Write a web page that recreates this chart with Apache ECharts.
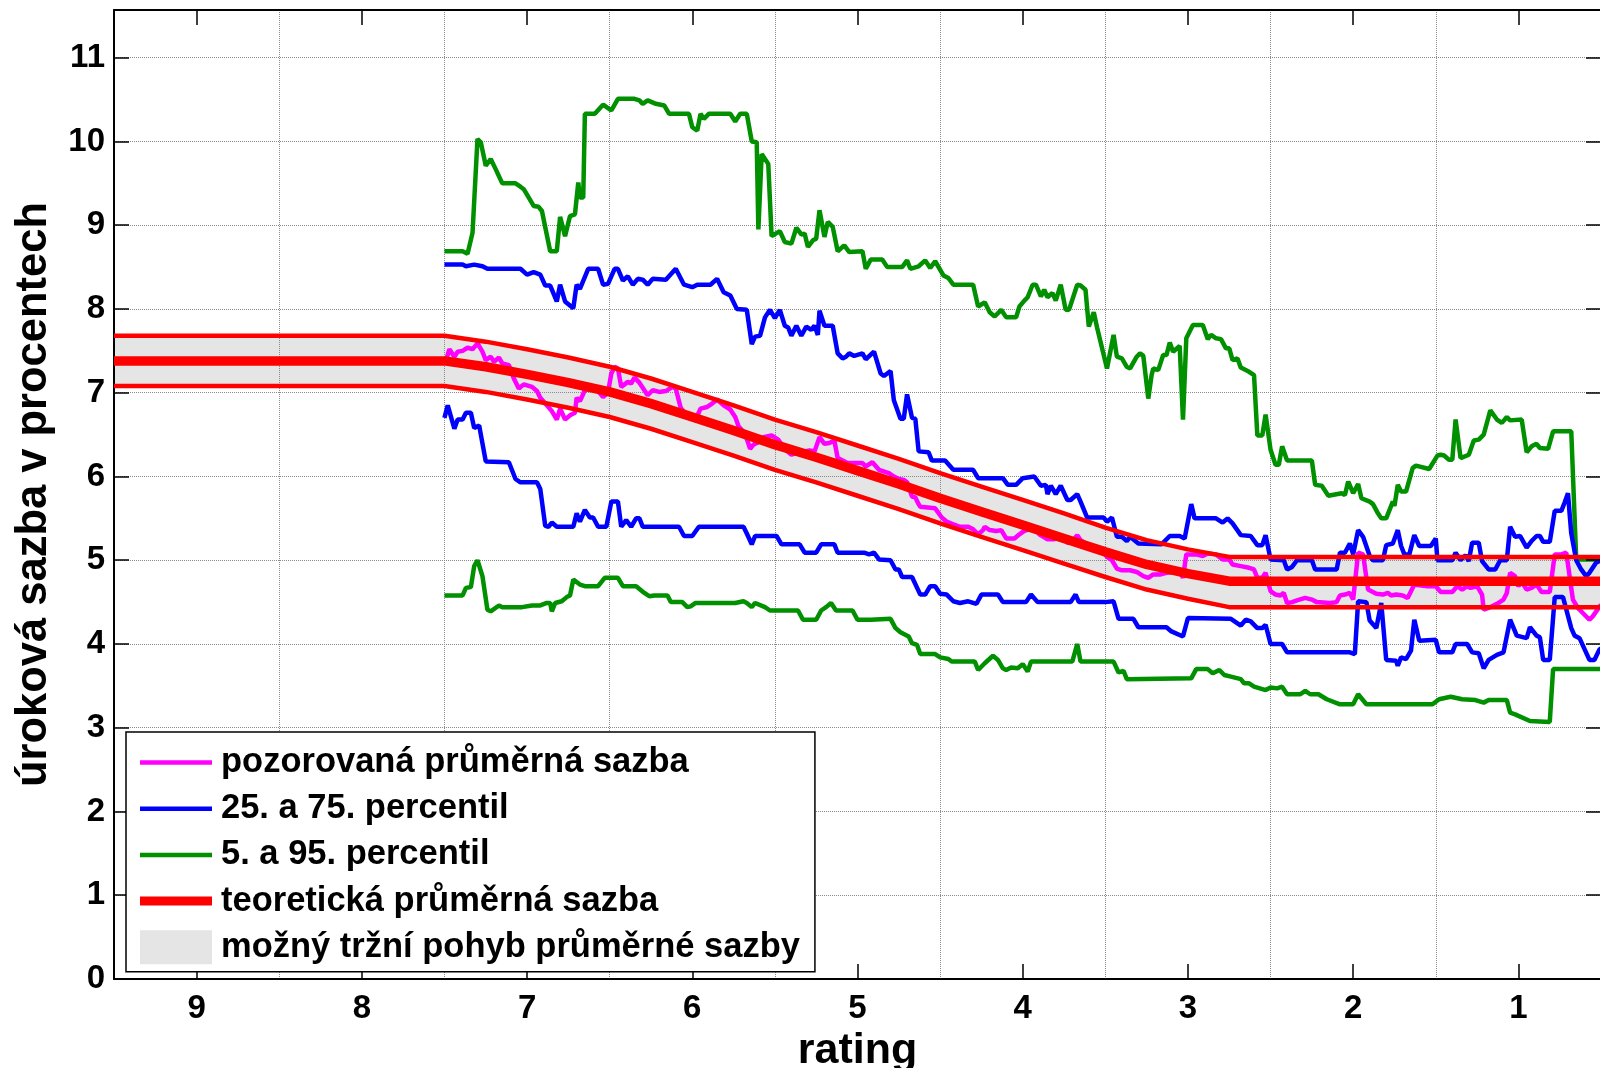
<!DOCTYPE html>
<html><head><meta charset="utf-8">
<script src="https://cdn.jsdelivr.net/npm/echarts@6/dist/echarts.min.js"></script>
<style>html,body{margin:0;padding:0;background:#fff;overflow:hidden}#c{width:1600px;height:1068px}</style>
</head><body><div id="c"></div>
<script>
// ---- tick labels ----
const ratingTicks = [1, 2, 3, 4, 5, 6, 7, 8, 9];
const rateTicks = [0, 1, 2, 3, 4, 5, 6, 7, 8, 9, 10, 11];

// ---- theoretical mean rate and its band ----
const theoryRating = [9.5, 7.5, 7.25, 7.0, 6.75, 6.5, 6.25, 6.0, 5.75, 5.5, 5.25, 5.0, 4.75, 4.5, 4.25, 4.0, 3.75, 3.5, 3.25, 3.0, 2.75, 0.5];
const theoryMean  = [7.38, 7.38, 7.31, 7.22, 7.12, 7.01, 6.87, 6.71, 6.55, 6.38, 6.23, 6.07, 5.91, 5.74, 5.58, 5.42, 5.26, 5.10, 4.95, 4.84, 4.75, 4.75];
const theoryUpper = [7.68, 7.68, 7.61, 7.52, 7.42, 7.31, 7.17, 7.01, 6.85, 6.68, 6.53, 6.37, 6.21, 6.04, 5.88, 5.72, 5.56, 5.39, 5.24, 5.13, 5.04, 5.04];
const theoryLower = [7.08, 7.08, 7.01, 6.92, 6.82, 6.71, 6.57, 6.41, 6.25, 6.08, 5.93, 5.77, 5.61, 5.44, 5.28, 5.12, 4.96, 4.80, 4.65, 4.54, 4.44, 4.44];

// ---- 95th percentile [rating, rate] ----
const p95 = [[7.50,8.69],[7.39,8.69],[7.36,8.66],[7.33,8.91],[7.30,10.03],[7.28,9.99],[7.25,9.71],[7.22,9.79],[7.19,9.67],[7.15,9.50],[7.07,9.50],[7.04,9.46],[7.02,9.43],[6.96,9.23],[6.93,9.22],[6.91,9.17],[6.86,8.69],[6.82,8.69],[6.80,9.10],[6.77,8.87],[6.74,9.11],[6.71,9.13],[6.69,9.51],[6.68,9.33],[6.66,9.33],[6.65,10.33],[6.59,10.33],[6.54,10.44],[6.49,10.37],[6.45,10.51],[6.35,10.51],[6.32,10.49],[6.30,10.45],[6.27,10.49],[6.22,10.45],[6.17,10.43],[6.14,10.33],[6.02,10.33],[6.00,10.17],[5.97,10.13],[5.95,10.33],[5.93,10.27],[5.90,10.33],[5.77,10.33],[5.74,10.24],[5.71,10.33],[5.67,10.33],[5.64,10.00],[5.61,9.99],[5.60,8.95],[5.58,9.85],[5.54,9.73],[5.52,8.87],[5.47,8.93],[5.44,8.80],[5.40,8.78],[5.37,8.97],[5.34,8.89],
[5.32,8.90],[5.30,8.74],[5.27,8.82],[5.25,8.84],[5.23,9.18],[5.20,8.86],[5.18,9.04],[5.15,8.98],[5.12,8.69],[5.08,8.76],[5.05,8.68],[4.97,8.69],[4.95,8.48],[4.92,8.59],[4.85,8.59],[4.82,8.50],[4.73,8.50],[4.70,8.58],[4.68,8.48],[4.63,8.51],[4.59,8.58],[4.56,8.49],[4.53,8.57],[4.48,8.40],[4.45,8.37],[4.42,8.29],[4.30,8.29],[4.27,8.03],[4.23,8.08],[4.20,7.96],[4.17,7.91],[4.13,7.99],[4.10,7.90],[4.04,7.90],[4.02,8.03],[3.99,8.10],[3.97,8.14],[3.94,8.29],[3.92,8.29],[3.89,8.15],[3.87,8.23],[3.85,8.14],[3.82,8.19],[3.80,8.10],[3.77,8.29],[3.74,7.99],[3.72,7.99],[3.67,8.29],[3.65,8.28],[3.62,8.23],[3.60,7.79],[3.57,7.96],[3.55,7.78],[3.49,7.29],[3.45,7.69],[3.43,7.43],[3.40,7.41],[3.37,7.31],[3.35,7.29],[3.31,7.43],[3.29,7.47],[3.27,7.44],[3.24,6.93],[3.22,7.21],
[3.21,7.29],[3.18,7.27],[3.15,7.45],[3.13,7.45],[3.11,7.60],[3.09,7.49],[3.05,7.56],[3.03,6.68],[3.01,7.65],[2.97,7.81],[2.91,7.81],[2.88,7.64],[2.86,7.69],[2.83,7.65],[2.80,7.64],[2.77,7.53],[2.75,7.53],[2.73,7.39],[2.70,7.41],[2.68,7.30],[2.63,7.25],[2.60,7.21],[2.58,6.49],[2.55,6.49],[2.53,6.74],[2.50,6.32],[2.47,6.14],[2.45,6.14],[2.43,6.36],[2.40,6.19],[2.25,6.19],[2.23,5.90],[2.19,5.89],[2.15,5.77],[2.07,5.80],[2.05,5.78],[2.03,5.94],[2.00,5.80],[1.97,5.91],[1.95,5.74],[1.90,5.70],[1.88,5.67],[1.85,5.56],[1.83,5.50],[1.80,5.50],[1.76,5.70],[1.75,5.65],[1.73,5.90],[1.71,5.82],[1.68,5.82],[1.64,6.10],[1.62,6.13],[1.54,6.09],[1.49,6.25],[1.47,6.26],[1.45,6.25],[1.42,6.20],[1.40,6.20],[1.38,6.68],[1.35,6.22],[1.30,6.26],[1.27,6.43],[1.24,6.44],[1.21,6.50],[1.17,6.79],[1.16,6.79],[1.13,6.68],[1.10,6.64],[1.07,6.71],[1.05,6.67],[0.98,6.68],[0.95,6.29],[0.92,6.36],[0.89,6.39],[0.87,6.34],[0.82,6.33],[0.79,6.54],[0.68,6.54],[0.65,5.01],[0.50,5.01]];

// ---- 75th percentile ----
const p75 = [[7.50,8.53],[7.39,8.53],[7.37,8.51],[7.32,8.53],[7.27,8.51],[7.24,8.48],[7.04,8.48],[7.00,8.41],[6.96,8.44],[6.92,8.41],[6.89,8.28],[6.86,8.28],[6.82,8.09],[6.80,8.29],[6.77,8.09],[6.72,8.01],[6.70,8.29],[6.68,8.24],[6.63,8.48],[6.57,8.48],[6.54,8.29],[6.51,8.30],[6.47,8.48],[6.45,8.48],[6.42,8.34],[6.39,8.39],[6.36,8.29],[6.33,8.36],[6.30,8.35],[6.27,8.29],[6.24,8.36],[6.16,8.35],[6.10,8.48],[6.05,8.29],[6.00,8.26],[5.97,8.29],[5.89,8.29],[5.85,8.36],[5.81,8.20],[5.77,8.16],[5.73,8.00],[5.67,7.99],[5.64,7.58],[5.62,7.67],[5.59,7.68],[5.56,7.90],[5.53,7.99],[5.50,7.89],[5.47,7.99],[5.44,7.80],[5.42,7.78],[5.40,7.68],[5.37,7.80],[5.34,7.68],
[5.31,7.79],[5.28,7.75],[5.26,7.80],[5.24,7.69],[5.23,7.98],[5.20,7.80],[5.15,7.80],[5.12,7.47],[5.09,7.41],[5.07,7.43],[5.05,7.47],[5.02,7.44],[4.97,7.47],[4.95,7.40],[4.90,7.49],[4.86,7.23],[4.84,7.20],[4.80,7.26],[4.78,6.91],[4.74,6.69],[4.72,6.69],[4.70,6.98],[4.67,6.70],[4.65,6.69],[4.63,6.30],[4.57,6.29],[4.55,6.19],[4.47,6.19],[4.42,6.08],[4.30,6.08],[4.27,5.98],[4.12,5.98],[4.09,5.90],[4.04,5.90],[4.00,5.98],[3.93,6.00],[3.89,5.89],[3.86,5.90],[3.85,5.79],[3.83,5.89],[3.80,5.79],[3.77,5.89],[3.73,5.72],[3.71,5.72],[3.67,5.79],[3.65,5.70],[3.61,5.51],[3.51,5.51],[3.49,5.46],[3.46,5.51],[3.43,5.28],[3.40,5.28],[3.37,5.23],[3.35,5.28],[3.30,5.20],[3.16,5.19],[3.11,5.29],[3.05,5.29],[3.02,5.26],[2.98,5.67],[2.96,5.50],[2.83,5.50],[2.79,5.45],[2.76,5.50],[2.73,5.44],[2.68,5.30],[2.62,5.29],[2.58,5.18],[2.55,5.18],[2.53,5.30],[2.50,5.01],[2.42,5.00],[2.40,4.89],[2.37,4.92],[2.34,5.00],[2.25,5.00],[2.23,4.89],[2.10,4.89],[2.08,5.09],[2.05,5.09],[2.02,5.20],[2.00,5.07],[1.97,5.36],[1.94,5.28],[1.90,5.05],[1.88,5.00],[1.82,5.00],[1.80,5.18],[1.76,5.20],[1.73,5.36],[1.71,5.17],[1.69,5.07],[1.66,5.07],[1.63,5.30],[1.60,5.17],[1.53,5.17],[1.50,5.26],[1.49,5.00],[1.40,5.00],[1.38,5.09],[1.35,5.00],[1.32,5.06],[1.30,4.99],[1.28,5.21],[1.24,5.21],[1.22,4.99],[1.18,4.89],[1.14,4.89],[1.11,5.00],[1.07,5.00],[1.05,5.40],[1.02,5.28],[0.99,5.29],[0.95,5.15],[0.92,5.23],[0.89,5.29],[0.87,5.29],[0.85,5.22],[0.81,5.22],[0.78,5.59],[0.74,5.59],[0.72,5.69],[0.70,5.80],[0.68,5.32],[0.65,5.00],[0.62,4.89],[0.59,4.81],[0.57,4.85],[0.53,4.97],[0.50,5.00]];

// ---- 25th percentile ----
const p25 = [[7.50,6.70],[7.48,6.85],[7.44,6.57],[7.42,6.68],[7.39,6.68],[7.37,6.76],[7.34,6.76],[7.32,6.58],[7.29,6.61],[7.25,6.18],[7.11,6.17],[7.07,5.97],[7.04,5.93],[6.94,5.93],[6.92,5.85],[6.89,5.41],[6.87,5.40],[6.85,5.45],[6.82,5.40],[6.72,5.40],[6.70,5.56],[6.68,5.46],[6.65,5.60],[6.62,5.51],[6.60,5.51],[6.57,5.40],[6.52,5.40],[6.49,5.70],[6.45,5.70],[6.43,5.40],[6.40,5.48],[6.37,5.40],[6.34,5.50],[6.32,5.50],[6.30,5.40],[6.08,5.40],[6.05,5.29],[6.00,5.29],[5.96,5.40],[5.69,5.40],[5.67,5.32],[5.64,5.19],[5.62,5.29],[5.49,5.29],[5.46,5.19],[5.35,5.19],[5.32,5.09],[5.25,5.09],[5.22,5.19],
[5.14,5.19],[5.12,5.09],[4.96,5.09],[4.93,5.07],[4.90,5.09],[4.87,5.01],[4.80,5.00],[4.77,4.89],[4.75,4.89],[4.73,4.80],[4.67,4.80],[4.62,4.59],[4.59,4.59],[4.56,4.69],[4.53,4.69],[4.50,4.60],[4.46,4.59],[4.42,4.51],[4.38,4.49],[4.33,4.51],[4.28,4.48],[4.25,4.59],[4.15,4.59],[4.12,4.50],[3.98,4.50],[3.95,4.59],[3.91,4.50],[3.71,4.50],[3.68,4.59],[3.66,4.50],[3.50,4.50],[3.45,4.51],[3.42,4.30],[3.33,4.30],[3.30,4.20],[3.13,4.20],[3.10,4.15],[3.03,4.09],[3.00,4.31],
[2.74,4.30],[2.68,4.22],[2.65,4.29],[2.62,4.27],[2.58,4.19],[2.55,4.19],[2.53,4.23],[2.50,4.00],[2.43,4.00],[2.40,3.90],[2.02,3.90],[1.99,3.88],[1.97,4.51],[1.92,4.50],[1.90,4.28],[1.86,4.19],[1.83,4.49],[1.80,3.81],[1.74,3.80],[1.73,3.74],[1.71,3.84],[1.68,3.82],[1.65,3.92],[1.63,4.29],[1.60,4.04],[1.50,4.05],[1.48,3.90],[1.40,3.90],[1.38,4.00],[1.31,4.00],[1.28,3.90],[1.24,3.89],[1.21,3.71],[1.18,3.81],[1.13,3.87],[1.09,3.90],[1.05,4.29],[1.01,4.10],[0.95,4.07],[0.93,4.20],[0.89,4.10],[0.87,4.08],[0.85,3.81],[0.81,3.81],[0.78,4.56],[0.73,4.56],[0.68,4.19],[0.66,4.10],[0.63,4.07],[0.57,3.81],[0.54,3.81],[0.51,3.93],[0.50,3.95]];

// ---- 5th percentile ----
const p5 = [[7.50,4.58],[7.39,4.58],[7.37,4.67],[7.34,4.68],[7.32,4.93],[7.30,5.00],[7.27,4.81],[7.24,4.41],[7.22,4.39],[7.17,4.46],[7.15,4.44],[7.03,4.44],[6.97,4.46],[6.92,4.46],[6.88,4.49],[6.86,4.49],[6.85,4.39],[6.83,4.49],[6.79,4.51],[6.76,4.56],[6.74,4.58],[6.72,4.77],[6.68,4.71],[6.65,4.69],[6.57,4.69],[6.53,4.79],[6.45,4.79],[6.42,4.69],[6.34,4.69],[6.29,4.61],[6.26,4.57],[6.23,4.58],[6.15,4.58],[6.13,4.50],[6.06,4.50],[6.03,4.44],[6.01,4.45],[5.98,4.49],[5.74,4.49],[5.69,4.51],[5.67,4.49],[5.64,4.44],[5.62,4.49],[5.56,4.44],[5.53,4.40],[5.36,4.40],[5.33,4.29],[5.25,4.29],[5.22,4.40],[5.19,4.44],[5.16,4.49],[5.13,4.40],[5.03,4.40],[5.00,4.29],[4.92,4.29],
[4.80,4.30],[4.77,4.19],[4.74,4.14],[4.69,4.09],[4.67,4.01],[4.64,3.99],[4.62,3.88],[4.53,3.88],[4.50,3.84],[4.45,3.82],[4.43,3.79],[4.29,3.79],[4.27,3.69],[4.23,3.77],[4.18,3.86],[4.15,3.81],[4.12,3.71],[4.10,3.69],[4.07,3.72],[4.03,3.71],[4.00,3.76],[3.97,3.67],[3.95,3.79],[3.70,3.79],[3.67,4.00],[3.65,3.79],[3.45,3.79],[3.42,3.66],[3.39,3.68],[3.37,3.58],
[2.98,3.59],[2.95,3.70],[2.88,3.70],[2.85,3.65],[2.81,3.69],[2.78,3.63],[2.74,3.61],[2.68,3.58],[2.66,3.53],[2.63,3.53],[2.60,3.49],[2.53,3.45],[2.50,3.48],[2.46,3.47],[2.43,3.49],[2.40,3.40],[2.32,3.40],[2.29,3.44],[2.26,3.40],[2.21,3.40],[2.16,3.34],[2.08,3.28],[2.00,3.28],[1.97,3.40],[1.92,3.28],[1.52,3.28],[1.48,3.34],[1.41,3.37],[1.34,3.34],[1.26,3.33],[1.21,3.30],[1.18,3.33],[1.07,3.33],[1.05,3.18],[1.02,3.16],[0.93,3.08],[0.81,3.07],[0.79,3.70],[0.50,3.70]];

// ---- observed average rate ----
const observed = [[7.49,7.39],[7.47,7.52],[7.44,7.43],[7.42,7.49],[7.39,7.50],[7.36,7.54],[7.33,7.52],[7.30,7.59],[7.27,7.49],[7.25,7.39],[7.22,7.43],[7.20,7.37],[7.17,7.42],[7.15,7.35],[7.11,7.33],[7.08,7.17],[7.05,7.05],[7.02,7.10],[6.97,7.07],[6.94,7.02],[6.92,6.94],[6.88,6.85],[6.85,6.78],[6.82,6.68],[6.80,6.81],[6.77,6.68],[6.74,6.73],[6.71,6.76],[6.70,6.94],[6.68,6.90],[6.65,7.03],[6.61,7.07],[6.57,7.02],[6.54,6.95],[6.51,7.00],[6.49,7.23],[6.47,7.31],[6.45,7.29],[6.43,7.07],[6.39,7.13],[6.37,7.11],[6.35,7.18],[6.32,7.12],[6.29,7.03],[6.27,6.97],[6.24,7.03],[6.20,7.01],[6.16,7.02],[6.12,7.07],[6.10,7.05],[6.07,6.82],[6.05,6.77],[6.02,6.71],[5.98,6.68],[5.95,6.81],[5.91,6.83],[5.88,6.87],[5.85,6.92],[5.81,6.85],[5.77,6.80],[5.74,6.71],[5.72,6.60],[5.68,6.51],[5.65,6.33],[5.63,6.38],[5.60,6.41],[5.57,6.47],[5.52,6.49],[5.48,6.44],[5.44,6.33],[5.40,6.26],[5.37,6.28],[5.34,6.29],[5.29,6.31],[5.26,6.30],[5.23,6.47],[5.20,6.39],[5.17,6.40],[5.14,6.43],[5.12,6.22],[5.06,6.16],
[4.97,6.16],[4.95,6.12],[4.91,6.17],[4.87,6.08],[4.81,6.04],[4.78,6.00],[4.75,5.97],[4.72,5.96],[4.70,5.93],[4.67,5.76],[4.65,5.75],[4.63,5.67],[4.62,5.64],[4.53,5.62],[4.49,5.51],[4.46,5.46],[4.42,5.43],[4.38,5.40],[4.33,5.40],[4.30,5.37],[4.27,5.31],[4.24,5.36],[4.23,5.40],[4.20,5.36],[4.16,5.35],[4.13,5.36],[4.10,5.26],[4.05,5.26],[4.02,5.31],[3.99,5.35],[3.96,5.37],[3.93,5.40],[3.90,5.31],[3.85,5.25],[3.81,5.25],[3.78,5.28],[3.75,5.25],[3.73,5.21],[3.70,5.22],[3.67,5.30],[3.65,5.24],[3.61,5.19],[3.58,5.14],[3.55,5.12],[3.51,5.09],[3.49,5.04],[3.46,5.00],[3.43,4.90],[3.40,4.88],[3.35,4.88],[3.31,4.86],[3.27,4.81],[3.24,4.79],
[3.21,4.83],[3.17,4.83],[3.13,4.85],[3.08,4.86],[3.05,4.87],[3.03,4.79],[3.01,5.07],[2.95,5.07],[2.91,5.05],[2.88,5.08],[2.83,5.07],[2.79,5.01],[2.75,5.01],[2.73,4.95],[2.68,4.93],[2.63,4.91],[2.60,4.89],[2.58,4.79],[2.55,4.79],[2.53,4.85],[2.50,4.63],[2.47,4.59],[2.44,4.58],[2.42,4.61],[2.40,4.49],[2.37,4.50],[2.34,4.52],[2.29,4.55],[2.25,4.53],[2.22,4.50],[2.14,4.49],[2.10,4.50],[2.08,4.58],[2.05,4.59],[2.02,4.61],[2.00,4.53],[1.97,5.09],[1.94,5.07],[1.91,4.65],[1.86,4.60],[1.82,4.59],[1.79,4.61],[1.77,4.58],[1.74,4.59],[1.70,4.58],[1.67,4.55],[1.63,4.71],[1.60,4.70],[1.55,4.69],[1.50,4.69],[1.47,4.62],[1.40,4.62],[1.37,4.69],[1.34,4.65],[1.31,4.69],[1.29,4.67],[1.25,4.69],[1.22,4.59],[1.21,4.41],[1.18,4.43],[1.13,4.48],[1.09,4.53],[1.07,4.61],[1.05,4.85],[1.02,4.81],[1.00,4.69],[0.98,4.74],[0.95,4.65],[0.92,4.67],[0.89,4.71],[0.86,4.62],[0.81,4.62],[0.78,5.07],[0.74,5.07],[0.71,5.09],[0.67,4.53],[0.64,4.43],[0.61,4.37],[0.57,4.29],[0.55,4.33],[0.50,4.47]];

// ---- legend names ----
const NAME_OBS = 'pozorovaná průměrná sazba';
const NAME_IQR = '25. a 75. percentil';
const NAME_P90 = '5. a 95. percentil';
const NAME_THEORY = 'teoretická průměrná sazba';
const NAME_BAND = 'možný tržní pohyb průměrné sazby';

const FONT = "'Liberation Sans', Arial, Helvetica, sans-serif";
const GRID_LINE = { show: true, lineStyle: { color: '#8a8a8a', width: 1, type: 'dotted' } };
const C_GREEN = '#009000', C_BLUE = '#0000ff', C_MAG = '#ff00ff', C_RED = '#ff0000', C_BAND = '#e5e5e5';
const THIN = 4.5, THICK = 9.5;

const pairs = (xs, ys) => xs.map((x, i) => [x, ys[i]]);

function lineSeries(name, data, color, width, z) {
  return { name, type: 'line', data, symbol: 'none', showSymbol: false, z,
    lineStyle: { color, width }, itemStyle: { color }, emphasis: { disabled: true }, silent: true };
}

const option = {
  animation: false,
  backgroundColor: '#ffffff',
  grid: { left: 114, right: -1, top: 10, bottom: 89, containLabel: false, outerBoundsMode: 'none' },
  legend: {
    left: 126, top: 732, orient: 'vertical', z: 10,
    backgroundColor: '#ffffff', borderColor: '#000000', borderWidth: 1.5, borderRadius: 0,
    padding: [13, 15, 7, 14], itemGap: 11.2, itemWidth: 72, itemHeight: 34,
    selectedMode: false,
    textStyle: { fontSize: 34.5, fontWeight: 'bold', color: '#000', fontFamily: FONT, padding: [0, 0, 0, 4] },
    data: [
      { name: NAME_OBS, icon: 'path://M0 0H72V4.5H0Z', itemStyle: { color: C_MAG } },
      { name: NAME_IQR, icon: 'path://M0 0H72V4.5H0Z', itemStyle: { color: C_BLUE } },
      { name: NAME_P90, icon: 'path://M0 0H72V4.5H0Z', itemStyle: { color: C_GREEN } },
      { name: NAME_THEORY, icon: 'path://M0 0H72V9H0Z', itemStyle: { color: C_RED } },
      { name: NAME_BAND, icon: 'rect', itemStyle: { color: C_BAND } }
    ]
  },
  xAxis: [
    { // data axis with labels (bottom)
      type: 'value', min: 0.5, max: 9.5, inverse: true, position: 'bottom', z: 5,
      name: 'rating', nameLocation: 'middle', nameGap: 44,
      nameTextStyle: { fontSize: 43, fontWeight: 'bold', color: '#000', fontFamily: FONT },
      axisLine: { show: true, onZero: false, lineStyle: { color: '#000', width: 2 } },
      axisTick: { show: true, inside: true, length: 15, customValues: ratingTicks, lineStyle: { color: '#000', width: 1.5 } },
      axisLabel: { show: true, customValues: ratingTicks, margin: 13, fontSize: 33, fontWeight: 'bold', color: '#000', fontFamily: FONT },
      splitLine: { show: false }
    },
    { // top spine
      type: 'value', min: 0.5, max: 9.5, inverse: true, position: 'top', z: 5,
      axisLine: { show: true, onZero: false, lineStyle: { color: '#000', width: 2 } },
      axisTick: { show: true, inside: true, length: 15, customValues: ratingTicks, lineStyle: { color: '#000', width: 1.5 } },
      axisLabel: { show: false }, splitLine: { show: false }
    },
    { // grid lines at half-ratings (shifted scale: value k sits at rating k + 0.5)
      type: 'value', min: 0, max: 9, interval: 1, inverse: true, position: 'bottom', z: 1.5,
      axisLine: { show: false }, axisTick: { show: false }, axisLabel: { show: false },
      splitLine: GRID_LINE
    }
  ],
  yAxis: [
    {
      type: 'value', min: 0, max: 11.57, interval: 1, position: 'left', z: 1.5,
      name: 'úroková sazba v procentech', nameLocation: 'middle', nameGap: 58,
      nameTextStyle: { fontSize: 43.5, fontWeight: 'bold', color: '#000', fontFamily: FONT },
      axisLine: { show: true, onZero: false, lineStyle: { color: '#000', width: 2 } },
      axisTick: { show: true, inside: true, length: 15, customValues: rateTicks, lineStyle: { color: '#000', width: 1.5 } },
      axisLabel: { show: true, customValues: rateTicks, margin: 9, fontSize: 33, fontWeight: 'bold', color: '#000', fontFamily: FONT },
      splitLine: GRID_LINE
    },
    {
      type: 'value', min: 0, max: 11.57, interval: 1, position: 'right', z: 5,
      axisLine: { show: true, onZero: false, lineStyle: { color: '#000', width: 2 } },
      axisTick: { show: true, inside: true, length: 15, customValues: rateTicks, lineStyle: { color: '#000', width: 1.5 } },
      axisLabel: { show: false }, splitLine: { show: false }
    }
  ],
  series: [
    { // shaded band between theoryLower and theoryUpper
      name: NAME_BAND, type: 'custom', z: 1, silent: true, clip: true,
      itemStyle: { color: C_BAND },
      data: [[5, 6]],
      renderItem: function (params, api) {
        const pts = [];
        for (let k = 0; k < theoryRating.length; k++) pts.push(api.coord([theoryRating[k], theoryUpper[k]]));
        for (let k = theoryRating.length - 1; k >= 0; k--) pts.push(api.coord([theoryRating[k], theoryLower[k]]));
        return { type: 'polygon', shape: { points: pts }, style: { fill: C_BAND } };
      }
    },
    lineSeries(NAME_P90, p95, C_GREEN, THIN, 3),
    lineSeries(NAME_P90, p5, C_GREEN, THIN, 3),
    lineSeries(NAME_IQR, p75, C_BLUE, THIN, 3),
    lineSeries(NAME_IQR, p25, C_BLUE, THIN, 3),
    lineSeries(NAME_OBS, observed, C_MAG, THIN, 3),
    lineSeries('bandUpper', pairs(theoryRating, theoryUpper), C_RED, THIN, 4),
    lineSeries('bandLower', pairs(theoryRating, theoryLower), C_RED, THIN, 4),
    lineSeries(NAME_THEORY, pairs(theoryRating, theoryMean), C_RED, THICK, 4)
  ]
};

const chart = echarts.init(document.getElementById('c'), null, { renderer: 'canvas' });
chart.setOption(option);
</script>
</body></html>
